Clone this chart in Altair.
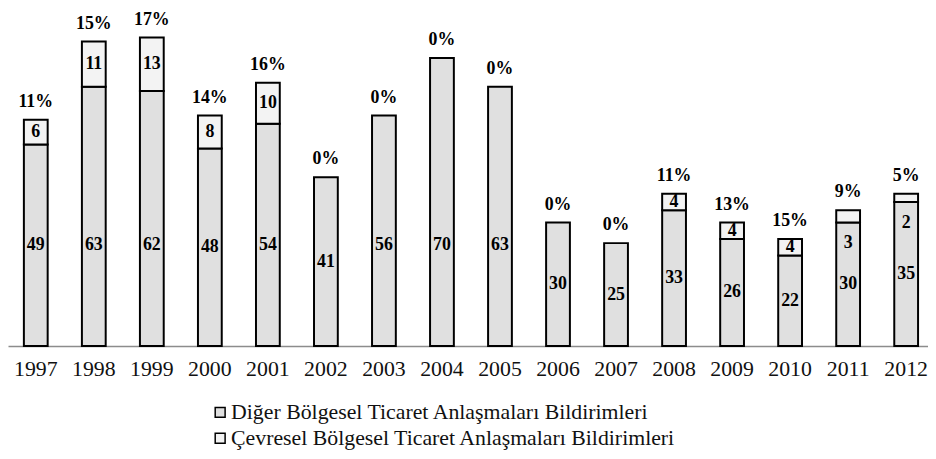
import altair as alt
import pandas as pd

years = [str(y) for y in range(1997, 2013)]
diger = [49, 63, 62, 48, 54, 41, 56, 70, 63, 30, 25, 33, 26, 22, 30, 35]
cevresel = [6, 11, 13, 8, 10, 0, 0, 0, 0, 0, 0, 4, 4, 4, 3, 2]
series_names = [
    "Diğer Bölgesel Ticaret Anlaşmaları Bildirimleri",
    "Çevresel Bölgesel Ticaret Anlaşmaları Bildirimleri",
]

long_rows = []
for y, d, c in zip(years, diger, cevresel):
    long_rows.append({"year": y, "series": series_names[0], "value": d, "ord": 0})
    if c > 0:
        long_rows.append({"year": y, "series": series_names[1], "value": c, "ord": 1})
long_df = pd.DataFrame(long_rows)
wide_df = pd.DataFrame({"year": years, "diger": diger, "cevresel": cevresel})

FONT = "Liberation Serif"
xscale = alt.Scale(domain=years, paddingInner=0.59, paddingOuter=0.2225, align=0.615)
yscale = alt.Scale(domain=[0, 80], nice=False)

bars = alt.Chart(long_df).mark_bar(stroke="black", strokeWidth=2).encode(
    x=alt.X("year:N", scale=xscale, sort=years,
            axis=alt.Axis(title=None, labelAngle=0, ticks=False, labelPadding=13,
                          labelFont=FONT, labelFontSize=22, labelColor="#111",
                          domainColor="#8c8c8c", domainWidth=1.5)),
    y=alt.Y("value:Q", stack="zero", scale=yscale, axis=None),
    color=alt.Color("series:N",
                    scale=alt.Scale(domain=series_names, range=["#e0e0e0", "#f3f3f3"]),
                    legend=alt.Legend(title=None, orient="none", legendX=203, legendY=388,
                                      direction="vertical", symbolType="square",
                                      symbolSize=100, symbolStrokeColor="black",
                                      symbolStrokeWidth=1.5, labelFont=FONT,
                                      labelFontSize=22, labelColor="#111", labelLimit=0,
                                      rowPadding=4, labelOffset=0, padding=0)),
    order=alt.Order("ord:Q"),
)

bottom_labels = alt.Chart(wide_df).transform_calculate(
    ly="min(datum.diger / 2, 24.5)"
).mark_text(font=FONT, fontSize=18, fontWeight="bold", baseline="middle", color="black").encode(
    x=alt.X("year:N", scale=xscale, sort=years),
    y=alt.Y("ly:Q", scale=yscale),
    text=alt.Text("diger:Q"),
)

top_labels = alt.Chart(wide_df).transform_filter(
    "datum.cevresel > 0"
).transform_calculate(
    ly="datum.cevresel >= 4 ? datum.diger + datum.cevresel / 2 : datum.diger - 5"
).mark_text(font=FONT, fontSize=18, fontWeight="bold", baseline="middle", color="black").encode(
    x=alt.X("year:N", scale=xscale, sort=years),
    y=alt.Y("ly:Q", scale=yscale),
    text=alt.Text("cevresel:Q"),
)

pct_labels = alt.Chart(wide_df).transform_calculate(
    total="datum.diger + datum.cevresel",
    pct="round(datum.cevresel / (datum.diger + datum.cevresel) * 100) + '%'",
).mark_text(font=FONT, fontSize=18, fontWeight="bold", baseline="alphabetic", dy=-13,
            color="black").encode(
    x=alt.X("year:N", scale=xscale, sort=years),
    y=alt.Y("total:Q", scale=yscale),
    text=alt.Text("pct:N"),
)

chart = alt.layer(bars, bottom_labels, top_labels, pct_labels).properties(
    width=928, height=332, padding=0
).configure_view(stroke=None)

chart.save("out.html", embed_options={"renderer": "svg", "actions": False})
